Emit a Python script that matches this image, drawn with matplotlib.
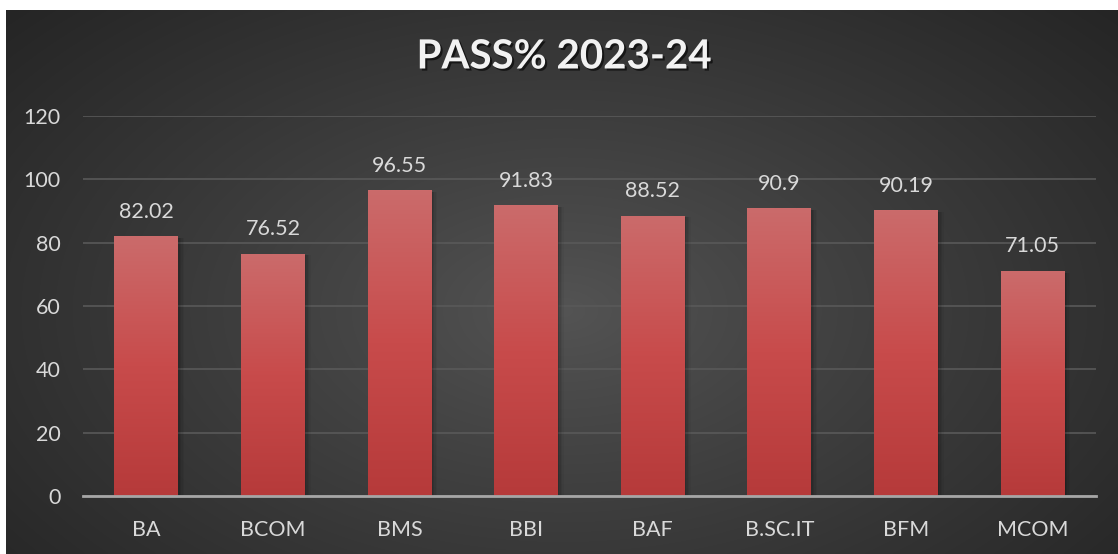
import numpy as np
import matplotlib
matplotlib.use("Agg")
import matplotlib.pyplot as plt
import matplotlib.patheffects as pe
from matplotlib.colors import LinearSegmentedColormap

courses = ["BA", "BCOM", "BMS", "BBI", "BAF", "B.SC.IT", "BFM", "MCOM"]
pass_pct = [82.02, 76.52, 96.55, 91.83, 88.52, 90.9, 90.19, 71.05]
labels = ["82.02", "76.52", "96.55", "91.83", "88.52", "90.9", "90.19", "71.05"]
yticks = [0, 20, 40, 60, 80, 100, 120]

plt.rcParams['font.family'] = ['Lato', 'DejaVu Sans']

W, H = 1118, 554
fig = plt.figure(figsize=(W / 100, H / 100), dpi=100, facecolor="white")

# radial gradient background panel
bg = fig.add_axes([6 / W, 0, 1 - 6 / W, 544 / H], zorder=0)
bg.axis("off")
yy, xx = np.mgrid[0:272, 0:556]
cx, cy = 278, 150
d = np.sqrt(((xx - cx) / 556) ** 2 + ((yy - cy) / 330) ** 2)
d = np.clip(d / d.max(), 0, 1)
c_in, c_out = 0x54 / 255, 0x25 / 255
val = c_in + (c_out - c_in) * d ** 0.9
bg.imshow(np.dstack([val, val, val]), aspect="auto", extent=[0, 1, 0, 1],
          interpolation="bilinear")
bg.set_xlim(0, 1)
bg.set_ylim(0, 1)

ax = fig.add_axes([83 / W, 1 - 496 / H, (1096 - 83) / W, (496 - 116) / H], zorder=1)
ax.patch.set_alpha(0)
x = np.arange(len(courses))
bw = 0.505

ax.set_xlim(-0.5, len(courses) - 0.5)
ax.set_ylim(0, 120)
ax.set_yticks(yticks)
ax.set_xticks(x)
ax.set_xticklabels(courses)
ax.tick_params(colors="#d9d9d9", labelsize=15.5, length=0, pad=17)
ax.tick_params(axis="y", pad=16)
for s in ["top", "right", "left"]:
    ax.spines[s].set_visible(False)
ax.spines["bottom"].set_color("#a6a6a6")
ax.spines["bottom"].set_linewidth(2)
ax.spines["bottom"].set_zorder(5)
ax.grid(axis="y", color="#595959", linewidth=1.2)
ax.set_axisbelow(True)

bar_cmap = LinearSegmentedColormap.from_list("bar", ["#b63a3a", "#c84b4b", "#cb6b6b"])
grad = np.linspace(0, 1, 256).reshape(-1, 1)
bars = ax.bar(x, pass_pct, width=bw, color="none", zorder=3)
for b, v, lab in zip(bars, pass_pct, labels):
    x0 = b.get_x()
    # soft shadow to the right
    for i, a in enumerate([0.10, 0.08, 0.06, 0.04]):
        ax.add_patch(plt.Rectangle((x0 + 0.01 + i * 0.012, 0), bw, v - 0.5,
                                   color="black", alpha=a, zorder=2, lw=0))
    im = ax.imshow(grad, cmap=bar_cmap, aspect="auto", origin="lower",
                   extent=[x0, x0 + bw, 0, v], zorder=3)
    im.set_clip_path(b)
    ax.text(b.get_x() + bw / 2, v + 4.6, lab, ha="center", va="bottom",
            color="#d9d9d9", fontsize=15.5, zorder=4)
ax.set_xlim(-0.5, len(courses) - 0.5)
ax.set_ylim(0, 120)

fig.text(564 / W, 1 - 57 / H, "PASS% 2023-24", ha="center", va="center",
         color="#f2f2f2", fontsize=29, fontweight="bold",
         path_effects=[pe.withSimplePatchShadow(offset=(1.5, -1.5),
                                                shadow_rgbFace="black", alpha=0.6)])

fig.savefig("out.png", dpi=100, facecolor="white")
